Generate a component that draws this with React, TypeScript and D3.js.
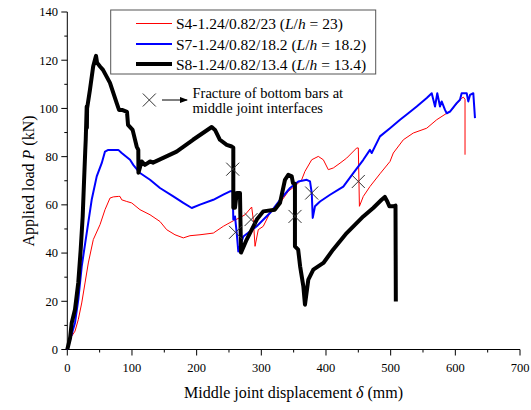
import React from "react";
import * as d3 from "d3";

const s4Data: [number, number][] = [
  [0, 0], [1.5, 3.4], [11.9, 7.6], [17, 12.4], [22.3, 19.3], [27.4, 27.6], [32.5, 35.9], [40.2, 45.6],
  [50.6, 51.8], [58.3, 58], [66, 62.8], [71.1, 63.3], [78.9, 63.5], [81.5, 63.5], [84.1, 62.1],
  [91.9, 61.4], [99.6, 60.8], [112.4, 58], [127.9, 55.9], [143.3, 53.1], [153.7, 49.7], [166.5, 47.6],
  [179.4, 46.3], [189.7, 47.2], [205.2, 47.6], [225.8, 48.3], [241.2, 51.1], [256.7, 53.4], [267, 54.7],
  [274.8, 55.9], [285.1, 59.1], [287.6, 53.9], [290.3, 42.8], [295.3, 49.7], [303, 51.1], [313.4, 56.7],
  [329, 60.8], [341.7, 65.6], [354.7, 68.4], [362.4, 70.4], [367.5, 73.9], [377.9, 78.7], [388.1, 80.1],
  [395.9, 78.7], [403.6, 74.6], [411.3, 75.3], [421.7, 77.3], [432, 79.4], [447.5, 83.6], [450, 83.6],
  [451.7, 59.4], [457.7, 63.5], [468, 67.6], [483.5, 72.9], [499, 78], [504.1, 81.5], [519.6, 87],
  [535, 89.8], [555.8, 91.8], [571.2, 95.3], [586.7, 98], [594.4, 99.4], [602.1, 101.9], [609.8, 104.2],
  [612.3, 104.7], [615, 103.8], [615, 80.8],
];

const s7Data: [number, number][] = [
  [0, 0], [1.5, 1.4], [11.9, 11.1], [17, 20.7], [22.3, 34.5], [30, 48.3], [37.7, 62.1], [45.5, 71.8],
  [53.2, 77.3], [58.3, 82.1], [63.4, 82.8], [78.9, 82.8], [84.1, 81.5], [97, 78.7], [102, 76.6],
  [112.4, 73.2], [127.9, 70.4], [143.3, 67], [163.9, 63.5], [179.4, 60.8], [192.4, 58.7], [205.2, 60.1],
  [225.8, 62.1], [241.2, 64.2], [251.6, 65.6], [255.8, 65.6], [256.7, 53.9], [259.3, 55.2], [262, 48.3],
  [264.4, 40.7], [272.2, 46.9], [292.9, 51.1], [313.4, 56.6], [329, 62.1], [344.4, 67], [357.2, 69.7],
  [370.2, 70.4], [375.3, 69.7], [378, 64.9], [379.5, 54.6], [383, 59.4], [390.8, 61.4], [406.3, 64.2],
  [426.8, 67.6], [442.2, 73.2], [457.7, 78.7], [468, 82.8], [470.7, 81.5], [483.5, 88.4], [499, 91.8],
  [514.5, 95.3], [527.3, 98], [540.3, 100.8], [555.8, 104.3], [563.5, 106.3], [568.6, 100.8],
  [572.1, 106.3], [576.3, 100.8], [578.9, 102.9], [584, 99.4], [586.7, 98], [591.8, 98.7], [602.1, 102.2],
  [607.2, 103.6], [609.8, 106.3], [617.6, 106.3], [620, 102.9], [622.7, 105.6], [627.8, 106.3], [630.4, 96],
];

const s8Data: [number, number][] = [
  [0, 0], [4.4, 5], [6.8, 11], [11.9, 16.6], [17, 27.8], [20.7, 41.4], [23.8, 55.2], [25.8, 69.2],
  [27.8, 82.8], [28.5, 87], [30, 100.8], [30.3, 92], [30.6, 100], [35, 107.7], [40, 117.4], [44.4, 121.8],
  [46, 119], [50.6, 117.4], [55.2, 116], [66, 110.6], [76.4, 102.2], [80, 99.4], [84.6, 99.4], [92.3, 98.6],
  [93.9, 93.2], [101, 91.1], [107.3, 84.2], [109.8, 82.8], [110, 73.3], [115, 78], [120, 76.6], [128, 78],
  [132.5, 77.5], [169, 82.1], [194.4, 87], [223.3, 92.3], [228.4, 91.1], [236, 87], [246.5, 84.9],
  [254.2, 84.2], [256.7, 83.7], [256.7, 58.8], [259.3, 58.8], [262, 64.9], [267, 64.9], [268.6, 40.2],
  [277.4, 45.6], [293, 53.9], [303, 57.3], [321, 58], [329, 60.9], [336.6, 70.4], [341.7, 72.5], [347, 71.8],
  [349, 69], [352, 68.8], [352, 42.8], [357, 41.4], [360, 34.5], [365, 26.2], [367.5, 18.6], [372.7, 29],
  [380.4, 33.1], [396, 35.9], [410.9, 41.4], [432, 48.3], [457.7, 55.2], [473, 58.7], [486, 62.1],
  [491, 63.3], [494.8, 61.4], [498, 59.4], [504, 59.4], [507.5, 59.7], [508, 19.9],
];

const fractureX = [255.8, 260.1, 284.1, 352.1, 377.9, 450];
const fractureY = [74.8, 48.6, 53.9, 55.2, 64.9, 69.7];

const xTicks = [0, 100, 200, 300, 400, 500, 600, 700];
const yTicks = [0, 20, 40, 60, 80, 100, 120, 140];
const xMinor = [50, 150, 250, 350, 450, 550, 650];
const yMinor = [10, 30, 50, 70, 90, 110, 130];

const legendCodes = ["S4-1.24/0.82/23", "S7-1.24/0.82/18.2", "S8-1.24/0.82/13.4"];
const legendRatios = ["23", "18.2", "13.4"];
const seriesColors = ["#ff0000", "#0000ff", "#000000"];
const seriesWidths = [1, 2, 4];

const FONT = "'Liberation Serif', 'Times New Roman', Times, serif";

export default function App() {
  const x = d3.scaleLinear().domain([0, 700]).range([67.3, 520]);
  const y = d3.scaleLinear().domain([0, 140]).range([349.5, 12]);
  const line = d3
    .line<[number, number]>()
    .x((d) => x(d[0]))
    .y((d) => y(d[1]));
  const series = [s4Data, s7Data, s8Data];

  const cross = (cx: number, cy: number, key: string, r = 6.5) => (
    <g key={key} stroke="#333" strokeWidth={1}>
      <line x1={cx - r} y1={cy - r} x2={cx + r} y2={cy + r} />
      <line x1={cx - r} y1={cy + r} x2={cx + r} y2={cy - r} />
    </g>
  );

  const legendLineY = [23.5, 44, 64];

  return (
    <svg
      width={531}
      height={410}
      style={{ position: "absolute", left: 0, top: 0, background: "#fff" }}
      fontFamily={FONT}
    >
      <defs>
        <marker id="arr" markerWidth="8" markerHeight="6" refX="7" refY="3" orient="auto" markerUnits="userSpaceOnUse">
          <path d="M0,0 L8,3 L0,6 Z" fill="#000" />
        </marker>
      </defs>
      <rect x={0} y={0} width={531} height={410} fill="#fff" />

      {/* axes */}
      <line x1={x(0)} y1={y(0)} x2={x(700)} y2={y(0)} stroke="#000" strokeWidth={1} />
      <line x1={x(0)} y1={y(0)} x2={x(0)} y2={y(140)} stroke="#000" strokeWidth={1} />
      {xTicks.map((t) => (
        <g key={"xt" + t}>
          <line x1={x(t)} x2={x(t)} y1={y(0)} y2={y(0) + 6} stroke="#000" />
          <text x={x(t)} y={371.5} textAnchor="middle" fontSize={12.5}>
            {t}
          </text>
        </g>
      ))}
      {xMinor.map((t) => (
        <line key={"xm" + t} x1={x(t)} x2={x(t)} y1={y(0)} y2={y(0) + 3} stroke="#000" />
      ))}
      {yTicks.map((t) => (
        <g key={"yt" + t}>
          <line x1={x(0) - 6} x2={x(0)} y1={y(t)} y2={y(t)} stroke="#000" />
          <text x={58} y={y(t)} dy="0.35em" textAnchor="end" fontSize={12.5}>
            {t}
          </text>
        </g>
      ))}
      {yMinor.map((t) => (
        <line key={"ym" + t} x1={x(0) - 3} x2={x(0)} y1={y(t)} y2={y(t)} stroke="#000" />
      ))}

      {/* axis titles */}
      <text x={293.6} y={398} textAnchor="middle" fontSize={16}>
        Middle joint displacement <tspan fontStyle="italic">δ</tspan> (mm)
      </text>
      <text transform={`translate(34, 181) rotate(-90)`} textAnchor="middle" fontSize={16}>
        Applied load <tspan fontStyle="italic">P</tspan> (kN)
      </text>

      {/* series */}
      {series.map((s, i) => (
        <path
          key={"s" + i}
          d={line(s) || ""}
          fill="none"
          stroke={seriesColors[i]}
          strokeWidth={seriesWidths[i]}
          strokeLinejoin="round"
        />
      ))}

      {/* fracture markers */}
      {fractureX.map((fx, i) => cross(x(fx), y(fractureY[i]), "f" + i))}

      {/* legend */}
      <rect x={110.7} y={10} width={265} height={64} fill="#fff" stroke="#555" strokeWidth={1} />
      {legendCodes.map((c, i) => (
        <g key={"lg" + i}>
          <line
            x1={136}
            x2={172}
            y1={legendLineY[i]}
            y2={legendLineY[i]}
            stroke={seriesColors[i]}
            strokeWidth={seriesWidths[i]}
          />
          <text x={176} y={legendLineY[i] + 5.5} fontSize={15.5}>
            {c} (<tspan fontStyle="italic">L</tspan>/<tspan fontStyle="italic">h</tspan> = {legendRatios[i]})
          </text>
        </g>
      ))}

      {/* annotation */}
      {cross(149.3, 100, "ann")}
      <line x1={162} y1={100} x2={187} y2={100} stroke="#000" strokeWidth={1} markerEnd="url(#arr)" />
      <text x={192.5} y={98} fontSize={14.5}>
        Fracture of bottom bars at
      </text>
      <text x={192.5} y={113} fontSize={14.5}>
        middle joint interfaces
      </text>
    </svg>
  );
}
